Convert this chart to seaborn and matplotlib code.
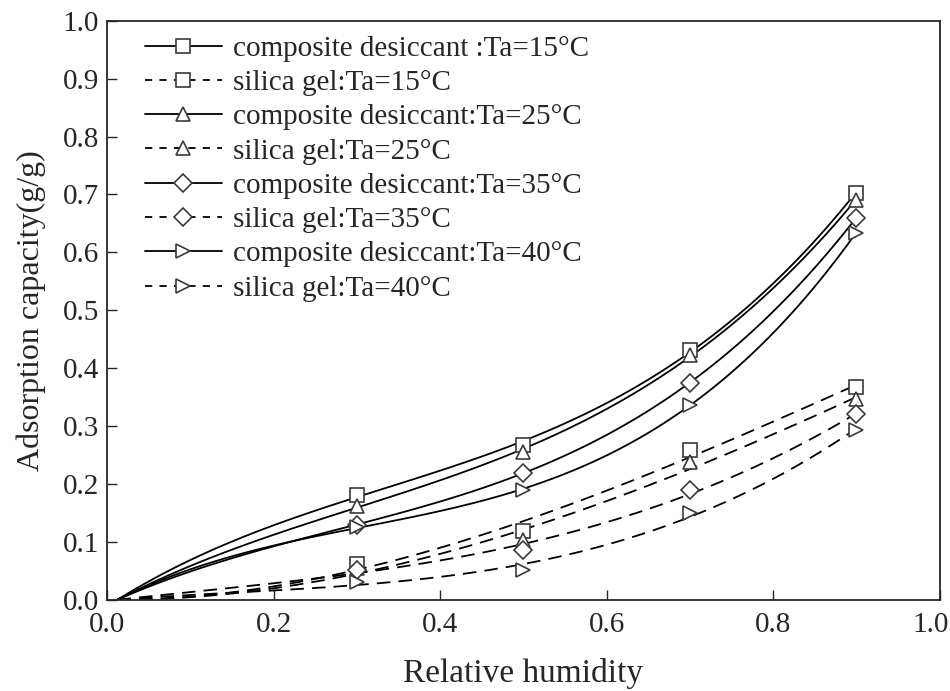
import numpy as np
import pandas as pd
import matplotlib
matplotlib.use("Agg")
import matplotlib.pyplot as plt
import matplotlib.transforms as mtransforms
from matplotlib.lines import Line2D
import seaborn as sns

# relative humidity where measurements were taken
rh = [0.3, 0.5, 0.7, 0.9]

# adsorption capacity (g/g)
comp_15 = [0.181, 0.268, 0.432, 0.703]
silica_15 = [0.062, 0.118, 0.259, 0.368]
comp_25 = [0.162, 0.256, 0.423, 0.691]
silica_25 = [0.055, 0.104, 0.238, 0.347]
comp_35 = [0.130, 0.219, 0.375, 0.660]
silica_35 = [0.052, 0.086, 0.190, 0.320]
comp_40 = [0.125, 0.190, 0.337, 0.634]
silica_40 = [0.031, 0.052, 0.150, 0.294]

labels = [
    "composite desiccant :Ta=15\u00b0C", "silica gel:Ta=15\u00b0C",
    "composite desiccant:Ta=25\u00b0C", "silica gel:Ta=25\u00b0C",
    "composite desiccant:Ta=35\u00b0C", "silica gel:Ta=35\u00b0C",
    "composite desiccant:Ta=40\u00b0C", "silica gel:Ta=40\u00b0C",
]
series = [comp_15, silica_15, comp_25, silica_25, comp_35, silica_35, comp_40, silica_40]
markers = ["s", "s", "^", "^", "D", "D", ">", ">"]
styles = ["-", "--"] * 4

sns.set_style("ticks")
plt.rcParams["font.family"] = ["Liberation Serif", "DejaVu Serif"]

fig, ax = plt.subplots(figsize=(9.5, 6.91), dpi=100)
fig.subplots_adjust(left=0.113, right=0.989, top=0.970, bottom=0.132)

edge = "#3a3a3a"
x0 = 0.012  # fitted curves start here on the x axis
handles = []
for lab, vals, m, ls in zip(labels, series, markers, styles):
    # least-squares cubic that starts at (x0, 0), like the fitted curves in the original
    d = np.array(rh) - x0
    A = np.column_stack([d, d**2, d**3])
    coef, *_ = np.linalg.lstsq(A, np.array(vals), rcond=None)
    xf = np.linspace(x0, 0.9, 120)
    df = xf - x0
    yf = coef[0] * df + coef[1] * df**2 + coef[2] * df**3
    lstyle = (0, (7.5, 4.5)) if ls == "--" else "-"
    sns.lineplot(x=xf, y=yf, ax=ax, color="black", linewidth=1.3, linestyle=lstyle)
    ms = 9.5
    ax.plot(rh, vals, linestyle="none", marker=m, markersize=ms,
            markerfacecolor="white", markeredgecolor=edge, markeredgewidth=1.2, zorder=3)
    handles.append(Line2D([], [], color="black", linewidth=1.3,
                          linestyle=(0, (4, 4)) if ls == "--" else "-",
                          marker=m, markersize=ms, markerfacecolor="white",
                          markeredgecolor=edge, markeredgewidth=1.2))

ax.set_xlim(0, 1.0)
ax.set_ylim(0, 1.0)
xt = np.arange(0, 1.01, 0.2)
yt = np.arange(0, 1.01, 0.1)
ax.set_xticks(xt)
ax.set_yticks(yt)
ax.set_xticklabels([f"{v:.1f}" for v in xt])
ax.set_yticklabels([f"{v:.1f}" for v in yt])
ax.tick_params(direction="in", length=7, width=1.0, labelsize=21, pad=6)
ax.tick_params(axis="x", pad=9)
for sp in ax.spines.values():
    sp.set_linewidth(1.3)
    sp.set_visible(True)

# the last x tick label sits slightly left of its tick, as in the original
last = ax.get_xticklabels()[-1]
last.set_transform(last.get_transform() + mtransforms.ScaledTranslation(-9 / 100, 0, fig.dpi_scale_trans))

ax.set_xlabel("Relative humidity", fontsize=24, labelpad=14)
ax.set_ylabel("Adsorption capacity(g/g)", fontsize=23, labelpad=12)

ax.legend(handles, labels, loc="upper left", frameon=False, fontsize=21,
          handlelength=2.65, handletextpad=0.38, labelspacing=0.27,
          borderaxespad=0.0, bbox_to_anchor=(0.031, 0.995))

fig.savefig("out.png", dpi=100)
